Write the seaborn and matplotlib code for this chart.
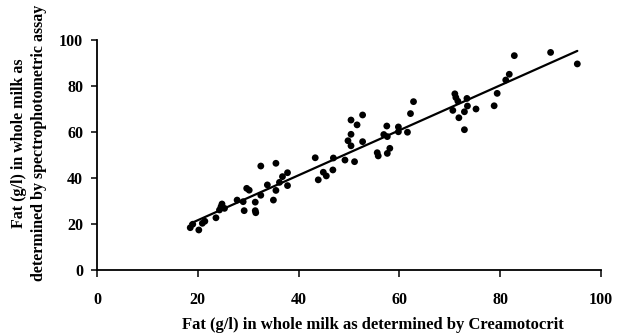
import matplotlib
matplotlib.use("Agg")
import matplotlib.pyplot as plt
import seaborn as sns
import pandas as pd

creamatocrit = [18.5, 19.0, 20.2, 20.9, 21.4, 23.6, 24.3, 24.8, 24.6, 25.3,
                27.8, 29.0, 29.2, 29.7, 30.2, 31.4, 31.4, 31.5, 32.5, 32.5,
                33.8, 35.0, 35.5, 35.5, 36.2, 36.8, 37.8, 37.8, 43.3, 43.9,
                44.9, 45.5, 46.8, 46.9, 49.2, 49.8, 50.4, 50.4, 50.4, 51.1,
                51.6, 52.7, 52.7, 55.6, 55.8, 56.9, 57.6, 57.5, 57.6, 58.1,
                59.8, 59.8, 61.6, 62.2, 62.8, 70.6, 71.0, 71.2, 71.6, 71.8,
                72.9, 72.9, 73.4, 73.5, 75.2, 78.8, 79.4, 81.1, 81.8, 82.8,
                90.0, 95.3]
spectro = [18.4, 19.9, 17.4, 20.3, 21.2, 22.7, 26.1, 28.7, 27.5, 26.8,
           30.4, 29.7, 25.8, 35.5, 34.7, 29.5, 25.8, 24.9, 45.2, 32.5,
           37.0, 30.4, 46.4, 34.6, 38.1, 40.6, 42.3, 36.7, 48.8, 39.2,
           42.5, 40.9, 43.5, 48.7, 47.8, 56.2, 54.0, 59.0, 65.2, 47.1,
           63.1, 67.4, 55.8, 51.0, 49.6, 58.9, 58.0, 62.6, 50.7, 52.9,
           62.2, 60.1, 59.9, 68.0, 73.2, 69.4, 76.6, 75.0, 73.4, 66.2,
           68.8, 61.0, 74.6, 71.3, 70.0, 71.4, 76.8, 82.6, 85.1, 93.2,
           94.6, 89.6]
ticks = [0, 20, 40, 60, 80, 100]

df = pd.DataFrame({"x": creamatocrit, "y": spectro})

sns.set_theme(style="ticks")
plt.rcParams["font.family"] = ["Liberation Serif", "DejaVu Serif"]
plt.rcParams["font.weight"] = "bold"

fig = plt.figure(figsize=(6.21, 3.33), dpi=100)
ax = fig.add_axes([97/621, 1-270/333, 504/621, 230/333])

sns.regplot(data=df, x="x", y="y", ax=ax, ci=None, truncate=True,
            scatter_kws=dict(s=24, color="black", edgecolor="none", alpha=1),
            line_kws=dict(color="black", lw=1.6))

ax.set_xlim(0, 100)
ax.set_ylim(0, 100)
ax.set_xticks(ticks)
ax.set_yticks(ticks)
ax.set_xticklabels([str(t) for t in ticks], fontsize=11.5, fontweight="bold")
ax.set_yticklabels([str(t) for t in ticks], fontsize=11.5, fontweight="bold")
for s in ["top", "right"]:
    ax.spines[s].set_visible(False)
for s in ["left", "bottom"]:
    ax.spines[s].set_color("black")
    ax.spines[s].set_linewidth(1.3)
ax.tick_params(axis="x", length=5, width=1.1, pad=11, colors="black")
ax.tick_params(axis="y", length=4, width=1.1, pad=6, colors="black")

ax.set_xlabel("Fat (g/l) in whole milk as determined by Creamotocrit",
              fontsize=12, fontweight="bold", color="black")
ax.xaxis.set_label_coords(0.548, -0.205)
ax.set_ylabel("Fat (g/l) in whole milk as\ndetermined by spectrophotometric assay",
              fontsize=11.5, fontweight="bold", color="black",
              va="center", ha="center", linespacing=1.38)
ax.yaxis.set_label_coords(-0.135, 0.552)

fig.savefig("out.png", dpi=100)
